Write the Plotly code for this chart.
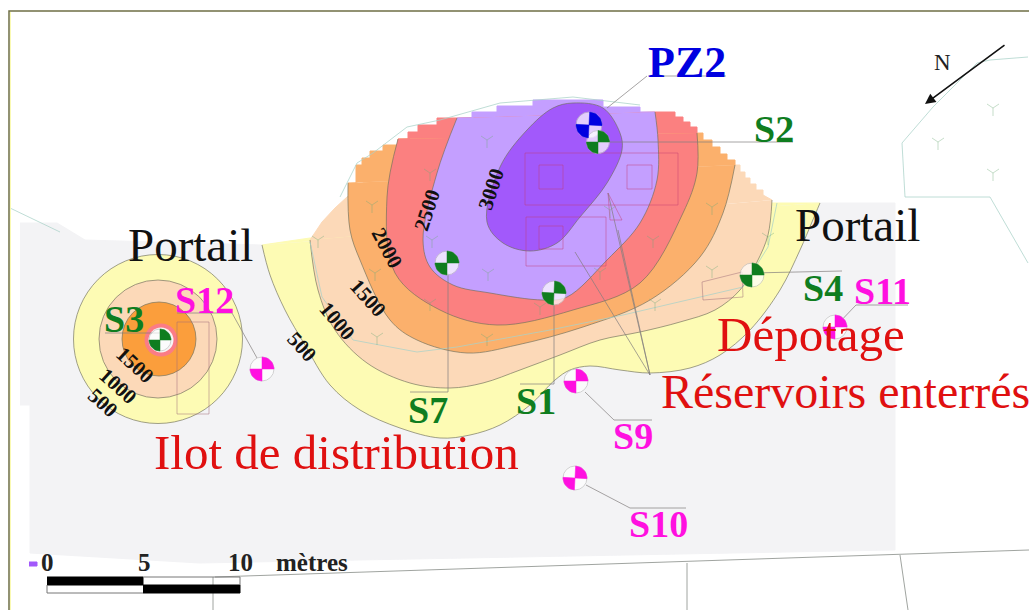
import numpy as np
import plotly.graph_objects as go

# --- map data, in map units ---
ground_x = [20, 57, 85, 262, 820, 895, 895, 620, 200, 30, 30, 20]
ground_y = [223, 223, 240, 245, 203, 203, 550, 555, 563, 553, 405, 405]

yellow_x = [262, 270, 285, 305, 330, 360, 400, 440, 470, 500, 530, 555, 570, 590, 620, 650, 690, 720, 750, 780, 800, 812, 820]
yellow_y = [245, 275, 310, 345, 385, 410, 428, 438, 435, 425, 405, 380, 370, 366, 370, 373, 368, 355, 330, 290, 250, 222, 203]
yellow_top_x = [820, 765, 310, 262]
yellow_top_y = [203, 203, 238, 245]

peach_x = [772, 768, 757, 740, 715, 680, 640, 600, 560, 520, 483, 450, 410, 367, 335, 318, 310]
peach_y = [200, 235, 262, 290, 310, 322, 332, 340, 355, 370, 383, 388, 383, 363, 330, 290, 240]
peach_top_x = [310, 322, 335, 347, 400, 700, 735, 740, 740, 745, 745, 750, 750, 756, 756, 763, 763, 772]
peach_top_y = [240, 222, 208, 197, 150, 150, 165, 165, 172, 172, 178, 178, 184, 184, 190, 190, 195, 200]

orange_x = [735, 723, 700, 650, 583, 517, 467, 417, 390, 360, 350, 348]
orange_y = [165, 213, 257, 300, 327, 345, 353, 340, 320, 260, 230, 183]
orange_top_x = [348, 356, 356, 362, 362, 370, 370, 383, 383, 398, 398, 697, 703, 703, 712, 712, 720, 720, 727, 727, 735, 735]
orange_top_y = [183, 183, 165, 165, 158, 158, 151, 151, 145, 145, 139, 133, 133, 140, 140, 147, 147, 154, 154, 160, 160, 165]

red_x = [697, 697, 683, 640, 573, 497, 440, 395, 387, 398]
red_y = [133, 173, 213, 283, 310, 325, 310, 273, 197, 139]
red_top_x = [398, 408, 408, 418, 418, 437, 437, 457, 655, 675, 675, 683, 683, 690, 690, 697, 697]
red_top_y = [139, 139, 132, 132, 125, 125, 118, 118, 112, 112, 117, 117, 122, 122, 127, 127, 133]

lav_x = [655, 658, 657, 640, 607, 567, 543, 490, 453, 430, 423, 437, 457]
lav_y = [112, 140, 180, 223, 260, 297, 300, 293, 285, 267, 240, 173, 118]
lav_top_x = [457, 472, 472, 497, 497, 533, 533, 603, 603, 640, 640, 655]
lav_top_y = [118, 118, 112, 112, 106, 106, 100, 100, 107, 107, 112, 112]

purple_x = [573, 603, 620, 622, 607, 580, 557, 530, 503, 487, 500, 527, 553, 573]
purple_y = [103, 108, 133, 150, 183, 217, 243, 251, 243, 222, 167, 130, 108, 103]

# contour rings around S3
ring_x = [158, 158, 159, 161, 161]
ring_y = [339, 339, 339, 340, 340]
ring_diam = [169, 118, 74, 33, 25]
ring_col = ["#fdfbb4", "#fcd9b8", "#fb9e3c", "#fb7c86", "#f6f6f6"]

# wells
well_names = ["PZ2", "S2", "S7", "S1", "S4", "S3", "S11", "S12", "S9", "S10"]
well_x = [589, 598, 447, 554, 752, 160, 835, 262, 576, 575]
well_y = [125, 142, 263, 293, 275, 340, 327, 369, 381, 478]
well_r = [13, 11.5, 12, 12, 12, 11, 12, 12, 12, 12]
well_rot = [-3, 0, 0, -3, 0, 0, 0, 0, 0, -3]
well_col = ["#0000e0", "#0f7d1f", "#0f7d1f", "#0f7d1f", "#0f7d1f", "#0f7d1f", "#ff10e0", "#ff10e0", "#ff10e0", "#ff10e0"]

# labels
lab_text = ["PZ2", "S2", "S7", "S1", "S4", "S3", "S11", "S12", "S9", "S10"]
lab_x = [687, 774, 428, 536, 823, 124, 882, 204, 633, 658]
lab_y = [62, 129, 410, 401, 288, 319, 291, 300, 436, 524]
lab_size = [44, 38, 38, 38, 38, 38, 38, 38, 38, 38]
lab_col = ["#0000e0", "#0f7d1f", "#0f7d1f", "#0f7d1f", "#0f7d1f", "#0f7d1f", "#ff10e0", "#ff10e0", "#ff10e0", "#ff10e0"]

name_text = ["Portail", "Portail", "Ilot de distribution", "Réservoirs enterrés", "Dépotage"]
name_x = [190, 857, 336, 845, 811]
name_y = [245, 225, 452, 391, 334]
name_size = [47, 47, 49, 48, 49]
name_col = ["#111111", "#111111", "#e01010", "#e01010", "#e01010"]

cont_text = ["3000", "2500", "2000", "1500", "1000", "500", "1500", "1000", "500"]
cont_x = [491, 427, 387, 368, 337, 302, 135, 118, 103]
cont_y = [189, 210, 248, 298, 321, 347, 365, 386, 403]
cont_ang = [-72, -72, 62, 48, 50, 47, 43, 42, 42]

scale_text = ["0", "5", "10", "mètres"]
scale_x = [47, 144, 240, 312]
scale_y = [562, 562, 562, 562]

# faint map linework
building_paths = [
    ([1028, 990, 977, 933, 902, 905, 990, 1028], [57, 60, 63, 107, 143, 197, 197, 263]),
    ([340, 357, 373, 407, 440, 500, 573, 640], [197, 163, 153, 127, 120, 103, 97, 105]),
    ([10, 60], [208, 232]),
    ([310, 322, 353, 417, 457, 550, 623, 743, 768, 777], [242, 297, 340, 352, 347, 330, 315, 287, 247, 203]),
]
site_paths = [
    ([215, 1029], [577, 550]),
    ([213, 213], [577, 610]),
    ([687, 687], [563, 610]),
    ([900, 908], [555, 610]),
]
pink_paths = [
    ([525, 678, 678, 525, 525], [153, 153, 205, 205, 153]),
    ([539, 563, 563, 539, 539], [165, 165, 189, 189, 165]),
    ([627, 652, 652, 627, 627], [165, 165, 189, 189, 165]),
    ([526, 606, 606, 526, 526], [217, 217, 266, 266, 217]),
    ([539, 563, 563, 539, 539], [226, 226, 249, 249, 226]),
    ([608, 622, 610, 608], [193, 220, 220, 193]),
]
soft_paths = [
    ([177, 209, 209, 177, 177], [322, 322, 414, 414, 322]),
    ([702, 742, 743, 703, 702], [282, 272, 297, 300, 282]),
]
leader_paths = [
    ([647, 607], [76, 108]),
    ([648, 726], [76, 76]),
    ([598, 755, 793], [142, 142, 142]),
    ([448, 448, 410], [273, 392, 392]),
    ([554, 554, 520], [303, 384, 384]),
    ([752, 842], [273, 271]),
    ([160, 105], [333, 333]),
    ([257, 232, 177], [358, 313, 313]),
    ([585, 614, 652], [392, 420, 420]),
    ([586, 630, 686], [485, 508, 508]),
    ([835, 856, 908], [327, 305, 305]),
    ([608, 650], [193, 375]),
    ([618, 650], [230, 375]),
    ([575, 650], [252, 375]),
]
tree_x = [487, 610, 712, 653, 430, 372, 432, 488, 600, 712, 375, 430, 540, 655, 377, 487, 318, 768, 993, 938, 993]
tree_y = [140, 210, 207, 240, 173, 205, 240, 273, 272, 270, 273, 303, 307, 303, 337, 338, 240, 237, 108, 142, 173]

bar_x = [47, 143, 240]
bar_top = 577
bar_mid = 585
bar_bot = 593

SERIF = "Liberation Serif"
EDGE = "rgba(110,110,90,0.65)"

fig = go.Figure()


def poly(x, y, color, line=None, smooth=False, width=1):
    fig.add_trace(go.Scatter(
        x=x, y=y, mode="lines", fill="toself", fillcolor=color,
        line=dict(color=line or color, width=width,
                  shape="spline" if smooth else "linear", smoothing=1.0),
        hoverinfo="skip", showlegend=False))


def lines(x, y, color, width=1):
    fig.add_trace(go.Scatter(x=x, y=y, mode="lines", line=dict(color=color, width=width),
                             hoverinfo="skip", showlegend=False))


poly(ground_x, ground_y, "#f3f3f5")
for p in site_paths:
    lines(p[0], p[1], "rgba(120,125,120,0.7)", 1)

zones = [
    (yellow_x, yellow_y, yellow_top_x, yellow_top_y, "#fdfbb4"),
    (peach_x, peach_y, peach_top_x, peach_top_y, "#fcd9b8"),
    (orange_x, orange_y, orange_top_x, orange_top_y, "#fbb06c"),
    (red_x, red_y, red_top_x, red_top_y, "#fb8080"),
    (lav_x, lav_y, lav_top_x, lav_top_y, "#c49fff"),
]
for zx, zy, tx, ty, col in zones:
    poly(tx, ty, col)
    poly(zx, zy, col, line=EDGE, smooth=True)
poly(purple_x, purple_y, "#a259fb", line=EDGE, smooth=True)

# rings around S3
for i in range(len(ring_x)):
    fig.add_trace(go.Scatter(
        x=[ring_x[i]], y=[ring_y[i]], mode="markers",
        marker=dict(size=ring_diam[i], color=ring_col[i],
                    line=dict(color=EDGE, width=1 if i < 3 else 0)),
        hoverinfo="skip", showlegend=False))

# faint linework
for p in building_paths:
    lines(p[0], p[1], "rgba(170,210,200,0.75)", 1)
for p in pink_paths:
    lines(p[0], p[1], "rgba(190,60,110,0.45)", 1)
for p in soft_paths:
    lines(p[0], p[1], "rgba(160,110,120,0.5)", 1)
fig.add_trace(go.Scatter(
    x=tree_x, y=tree_y, mode="markers",
    marker=dict(symbol="y-down-open", size=10, color="rgba(110,170,120,0.4)",
                line=dict(color="rgba(110,170,120,0.4)", width=1)),
    hoverinfo="skip", showlegend=False))
for p in leader_paths:
    lines(p[0], p[1], "rgba(130,125,125,0.7)", 1)

# well symbols
fig.add_trace(go.Scatter(
    x=well_x, y=well_y, mode="markers",
    marker=dict(size=[2 * r for r in well_r], color="white",
                line=dict(color="rgba(190,190,190,0.9)", width=1)),
    hoverinfo="skip", showlegend=False))
for col in sorted(set(well_col)):
    sx, sy = [], []
    for i in range(len(well_x)):
        if well_col[i] != col:
            continue
        for start in (0, 180):
            a = np.radians(np.linspace(start, start + 90, 13) + well_rot[i])
            sx += [well_x[i]] + list(well_x[i] + well_r[i] * np.cos(a)) + [well_x[i], None]
            sy += [well_y[i]] + list(well_y[i] - well_r[i] * np.sin(a)) + [well_y[i], None]
    poly(sx, sy, col, width=0.5)

# scale bar
poly([29, 37, 37, 29], [562, 562, 566, 566], "#a259fb")
poly([bar_x[0], bar_x[1], bar_x[1], bar_x[0]], [bar_top, bar_top, bar_mid, bar_mid], "#000000")
poly([bar_x[1], bar_x[2], bar_x[2], bar_x[1]], [bar_mid, bar_mid, bar_bot, bar_bot], "#000000")
lines([bar_x[0], bar_x[0], bar_x[1]], [bar_mid, bar_bot, bar_bot], "#777777", 1)
lines([bar_x[1], bar_x[2], bar_x[2]], [bar_top, bar_top, bar_mid], "#777777", 1)

# frame
lines([9, 9, 1029], [610, 11, 11], "#6f6f45", 1.5)
lines([10.5, 10.5], [12, 610], "rgba(250,250,170,0.9)", 1)

ann = []


def label(x, y, t, size, color, angle=0, bold=False):
    ann.append(dict(x=x, y=y, xref="x", yref="y", text=f"<b>{t}</b>" if bold else t, showarrow=False,
                    font=dict(family=SERIF, size=size, color=color), textangle=angle,
                    xanchor="center", yanchor="middle"))


for i in range(len(name_text)):
    label(name_x[i], name_y[i], name_text[i], name_size[i], name_col[i])
for i in range(len(lab_text)):
    label(lab_x[i], lab_y[i], lab_text[i], lab_size[i], lab_col[i], bold=True)
for i in range(len(cont_text)):
    label(cont_x[i], cont_y[i], cont_text[i], 21, "#111111", angle=cont_ang[i], bold=True)
for i in range(len(scale_text)):
    label(scale_x[i], scale_y[i], scale_text[i], 25, "#222222", bold=True)
label(942, 62, "N", 23, "#222222")
ann.append(dict(x=925, y=104, ax=1006, ay=44, xref="x", yref="y", axref="x", ayref="y", text="",
                showarrow=True, arrowhead=2, arrowsize=1.3, arrowwidth=1.6, arrowcolor="#111111"))

fig.update_layout(
    width=1029, height=610, margin=dict(l=0, r=0, t=0, b=0),
    paper_bgcolor="white", plot_bgcolor="white", showlegend=False, annotations=ann,
    xaxis=dict(range=[0, 1029], visible=False, fixedrange=True),
    yaxis=dict(range=[610, 0], visible=False, fixedrange=True),
)
fig.write_html("out.html", config=dict(displayModeBar=False),
               post_script="document.body.style.margin='0';document.documentElement.style.overflow='hidden';")
